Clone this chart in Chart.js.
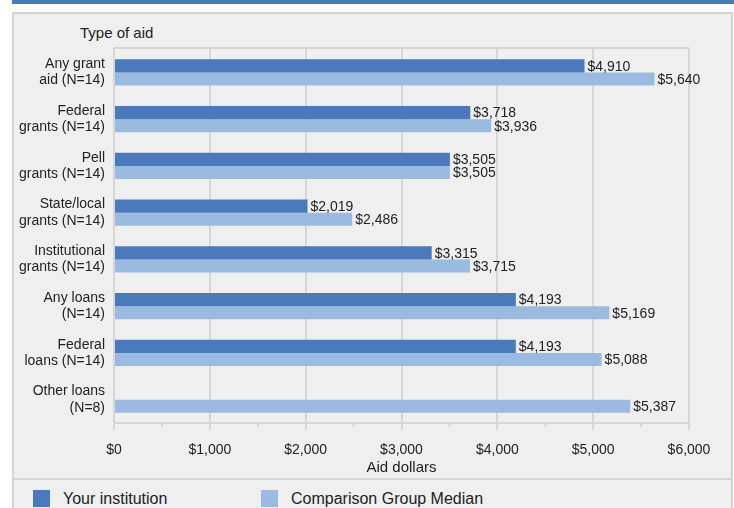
<!DOCTYPE html>
<html>
<head>
<meta charset="utf-8">
<script src="https://cdn.jsdelivr.net/npm/chart.js@4.4.1/dist/chart.umd.min.js"></script>
<style>
  body { margin: 0; background: #fff; font-family: "Liberation Sans", Arial, sans-serif; }
  #wrap { position: relative; width: 734px; height: 508px; overflow: hidden; }
  #topbar { position: absolute; left: 12px; top: 0; width: 722px; height: 4px; background: #4a78b8; }
  #panel { position: absolute; left: 12px; top: 12px; width: 717px; height: 464px; background: #efefef; border: 2px solid #d4d4d4; }
  #legendPanel { position: absolute; left: 12px; top: 478px; width: 717px; height: 40px; background: #efefef; border: 2px solid #d4d4d4; }
  #yTitle { position: absolute; left: 80px; top: 24px; font-size: 15px; color: #222; }
  .leg { position: absolute; top: 489px; font-size: 16px; color: #222; line-height: 20px; }
  .leg span { display: inline-block; width: 17px; height: 17px; vertical-align: -3px; }
  canvas { position: absolute; left: 0; top: 0; }
</style>
</head>
<body>
<div id="wrap">
  <div id="topbar"></div>
  <div id="panel"></div>
  <div id="legendPanel"></div>
  <div id="yTitle">Type of aid</div>
  <div class="leg" id="leg1" style="left:33px"><span style="background:#4a7abc"></span><b style="font-weight:normal;margin-left:13px">Your institution</b></div>
  <div class="leg" id="leg2" style="left:261px"><span style="background:#9bbadf"></span><b style="font-weight:normal;margin-left:13px">Comparison Group Median</b></div>
  <canvas id="aidChart" width="734" height="508"></canvas>
</div>
<script>
// Chart data
const categories = [
  ["Any grant", "aid (N=14)"],
  ["Federal", "grants (N=14)"],
  ["Pell", "grants (N=14)"],
  ["State/local", "grants (N=14)"],
  ["Institutional", "grants (N=14)"],
  ["Any loans", "(N=14)"],
  ["Federal", "loans (N=14)"],
  ["Other loans", "(N=8)"]
];
const yourInstitution = [4910, 3718, 3505, 2019, 3315, 4193, 4193, null];
const comparisonMedian = [5640, 3936, 3505, 2486, 3715, 5169, 5088, 5387];
const xTicks = [0, 1000, 2000, 3000, 4000, 5000, 6000];

const gridGray = "#d6d6d6";
const fontFamily = "'Liberation Sans', Arial, sans-serif";

function money(v) {
  return "$" + v.toLocaleString("en-US");
}

// value labels at the end of each bar
const valueLabels = {
  id: "valueLabels",
  afterDatasetsDraw(chart) {
    const ctx = chart.ctx;
    ctx.save();
    ctx.font = "14px " + fontFamily;
    ctx.fillStyle = "#222";
    ctx.textBaseline = "middle";
    ctx.textAlign = "left";
    chart.data.datasets.forEach((ds, i) => {
      const meta = chart.getDatasetMeta(i);
      meta.data.forEach((bar, j) => {
        const v = ds.data[j];
        if (v === null) return;
        ctx.fillText(money(v), bar.x + 3, bar.y + 1);
      });
    });
    ctx.restore();
  }
};

// top border of the plot box and minor ticks at the half-thousands
const plotFrame = {
  id: "plotFrame",
  beforeDatasetsDraw(chart) {
    const { ctx, chartArea } = chart;
    const x = chart.scales.x;
    ctx.save();
    ctx.strokeStyle = gridGray;
    ctx.lineWidth = 2;
    ctx.beginPath();
    ctx.moveTo(chartArea.left, chartArea.top - 1);
    ctx.lineTo(chartArea.right, chartArea.top - 1);
    for (let v = 500; v < 6000; v += 1000) {
      const px = x.getPixelForValue(v);
      ctx.moveTo(px, chartArea.bottom);
      ctx.lineTo(px, chartArea.bottom + 4);
    }
    ctx.stroke();
    ctx.restore();
  }
};

new Chart(document.getElementById("aidChart"), {
  type: "bar",
  data: {
    labels: categories,
    datasets: [
      {
        label: "Your institution",
        data: yourInstitution,
        backgroundColor: "#4a7abc",
        categoryPercentage: 0.56,
        barPercentage: 1.0
      },
      {
        label: "Comparison Group Median",
        data: comparisonMedian,
        backgroundColor: "#9bbadf",
        categoryPercentage: 0.56,
        barPercentage: 1.0
      }
    ]
  },
  options: {
    indexAxis: "y",
    responsive: false,
    animation: false,
    layout: { padding: { left: 0, top: 49, right: 45, bottom: 30 } },
    plugins: {
      legend: { display: false },
      tooltip: { enabled: false }
    },
    scales: {
      x: {
        min: 0,
        max: 6000,
        afterBuildTicks: (scale) => { scale.ticks = xTicks.map(v => ({ value: v })); },
        afterFit: (scale) => { scale.height = 55; },
        grid: { color: gridGray, lineWidth: 2, tickLength: 7, tickColor: gridGray },
        border: { color: gridGray, width: 2 },
        ticks: {
          padding: 12,
          color: "#222",
          font: { size: 14, family: fontFamily },
          maxRotation: 0,
          callback: (v) => money(v)
        },
        title: {
          display: true,
          text: "Aid dollars",
          color: "#222",
          font: { size: 15, family: fontFamily },
          padding: { top: 0, bottom: 1 }
        }
      },
      y: {
        afterFit: (scale) => { scale.width = 114; },
        grid: { display: false },
        border: { color: gridGray, width: 2 },
        ticks: {
          padding: 1,
          color: "#222",
          font: { size: 14, family: fontFamily, lineHeight: 1.17 }
        }
      }
    }
  },
  plugins: [valueLabels, plotFrame]
});
</script>
</body>
</html>
